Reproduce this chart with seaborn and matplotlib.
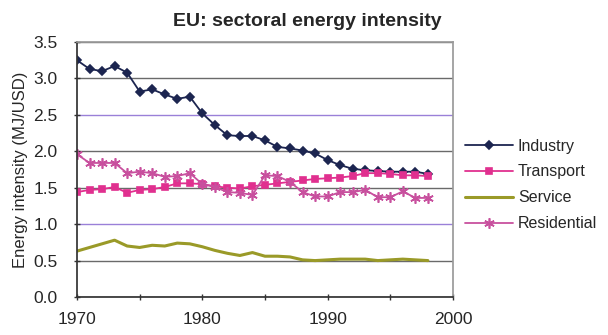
import numpy as np
import pandas as pd
import matplotlib
matplotlib.use("Agg")
import matplotlib.pyplot as plt
import seaborn as sns

sns.set_theme(style="white")
plt.rcParams["font.family"] = ["Liberation Sans", "DejaVu Sans"]

years = list(range(1970, 1999))
industry = [3.25, 3.13, 3.10, 3.17, 3.08, 2.82, 2.85, 2.78, 2.72, 2.75,
            2.52, 2.36, 2.22, 2.21, 2.21, 2.15, 2.06, 2.04, 2.01, 1.97,
            1.88, 1.81, 1.76, 1.74, 1.73, 1.72, 1.72, 1.72, 1.69]
transport = [1.44, 1.47, 1.48, 1.51, 1.43, 1.47, 1.48, 1.51, 1.56, 1.56,
             1.55, 1.52, 1.50, 1.49, 1.52, 1.54, 1.56, 1.58, 1.60, 1.62,
             1.63, 1.64, 1.66, 1.70, 1.70, 1.69, 1.67, 1.67, 1.66]
service = [0.63, 0.68, 0.73, 0.78, 0.70, 0.68, 0.71, 0.70, 0.74, 0.73,
           0.69, 0.64, 0.60, 0.57, 0.61, 0.56, 0.56, 0.55, 0.51, 0.50,
           0.51, 0.52, 0.52, 0.52, 0.50, 0.51, 0.52, 0.51, 0.50]
residential = [1.96, 1.84, 1.84, 1.84, 1.70, 1.72, 1.70, 1.65, 1.66, 1.70,
               1.55, 1.51, 1.44, 1.43, 1.40, 1.67, 1.66, 1.58, 1.44, 1.38,
               1.38, 1.44, 1.44, 1.47, 1.37, 1.37, 1.45, 1.36, 1.36]

sectors = ["Industry", "Transport", "Service", "Residential"]
x_ticks = [1970, 1980, 1990, 2000]
y_ticks = [0.0, 0.5, 1.0, 1.5, 2.0, 2.5, 3.0, 3.5]

df = pd.DataFrame({
    "year": years * 4,
    "value": industry + transport + service + residential,
    "sector": np.repeat(sectors, len(years)),
})

colors = {"Industry": "#1c2550", "Transport": "#e0308f",
          "Service": "#9a9a28", "Residential": "#c8509e"}
markers = {"Industry": "D", "Transport": "s", "Residential": (6, 2, 0)}
msizes = {"Industry": 4.5, "Transport": 5.0, "Residential": 7.5}

fig = plt.figure(figsize=(6.08, 3.35), dpi=100)
ax = fig.add_axes([0.1266, 0.1134, 0.6184, 0.7612])

for name in sectors:
    sub = df[df["sector"] == name]
    kw = dict(color=colors[name], linewidth=1.3)
    if name == "Service":
        kw.update(linewidth=2.2)
    else:
        kw.update(marker=markers[name], markersize=msizes[name],
                  markeredgecolor=colors[name], markerfacecolor=colors[name],
                  markeredgewidth=1.2)
    sns.lineplot(data=sub, x="year", y="value", ax=ax, label=name, **kw)

ax.set_xlim(1970, 2000)
ax.set_ylim(0, 3.5)
ax.set_xticks(x_ticks)
ax.set_xticks([1975, 1985, 1995], minor=True)
ax.set_yticks(y_ticks)
ax.set_yticklabels([f"{v:.1f}" for v in y_ticks])
ax.tick_params(axis="both", which="both", labelsize=12.5, direction="inout",
               length=4, width=1, color="#333333", bottom=True, left=True)
ax.tick_params(axis="x", pad=9)
ax.tick_params(axis="y", pad=12)

ax.grid(axis="y", color="#6a6a6a", linewidth=1)
ax.grid(axis="x", visible=False)
for v, gl in zip(y_ticks, ax.get_ygridlines()):
    if v in (1.0, 2.5):
        gl.set_color("#9a80d8")
ax.set_axisbelow(True)

for side in ("top", "right"):
    ax.spines[side].set_color("#9a9a9a")
ax.spines["left"].set_color("#333333")
ax.spines["bottom"].set_color("#333333")

ax.set_xlabel("")
ax.set_ylabel("Energy intensity (MJ/USD)", fontsize=12, labelpad=4)
fig.suptitle("EU: sectoral energy intensity", x=0.505, y=0.96,
             fontsize=14, fontweight="bold")

ax.legend(loc="center left", bbox_to_anchor=(0.99, 0.44), frameon=False,
          fontsize=11.5, handlelength=3.0, handletextpad=0.3, labelspacing=0.68,
          borderaxespad=0.6)

fig.savefig("out.png", dpi=100)
